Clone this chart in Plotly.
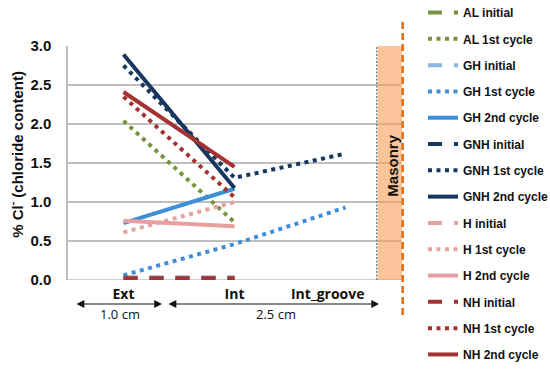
import plotly.graph_objects as go

categories = ["Ext", "Int", "Int_groove"]
x_pos = [0, 1, 2]
tick_pos = [0, 1, 1.84]

series_names = ["AL initial", "AL 1st cycle",
                "GH initial", "GH 1st cycle", "GH 2nd cycle",
                "GNH initial", "GNH 1st cycle", "GNH 2nd cycle",
                "H initial", "H 1st cycle", "H 2nd cycle",
                "NH initial", "NH 1st cycle", "NH 2nd cycle"]

al_initial = [0.02, 0.02, None]
al_1st = [2.04, 0.74, None]
gh_initial = [0.02, 0.02, None]
gh_1st = [0.06, 0.46, 0.93]
gh_2nd = [0.73, 1.17, None]
gnh_initial = [0.03, 0.03, None]
gnh_1st = [2.75, 1.31, 1.62]
gnh_2nd = [2.89, 1.18, None]
h_initial = [0.02, 0.02, None]
h_1st = [0.61, 1.00, None]
h_2nd = [0.76, 0.69, None]
nh_initial = [0.02, 0.02, None]
nh_1st = [2.35, 1.06, None]
nh_2nd = [2.41, 1.45, None]

values = [al_initial, al_1st, gh_initial, gh_1st, gh_2nd,
          gnh_initial, gnh_1st, gnh_2nd, h_initial, h_1st, h_2nd,
          nh_initial, nh_1st, nh_2nd]

green = "#77933C"
blue_l = "#8DB4E2"
blue = "#3C8FD8"
navy = "#17375E"
pink = "#E6A0A0"
red = "#A53232"
colors = [green, green, blue_l, blue, blue, navy, navy, navy,
          pink, pink, pink, red, red, red]
DASH = "14px,12px"
DOT = "4px,4.5px"
dashes = [DASH, DOT, DASH, DOT, "solid", DASH, DOT, "solid",
          DASH, DOT, "solid", DASH, DOT, "solid"]

fig = go.Figure()
for i, (name, vals) in enumerate(zip(series_names, values)):
    fig.add_trace(go.Scatter(
        x=x_pos, y=vals, name=name, mode="lines",
        line=dict(color=colors[i], width=4, dash=dashes[i]),
        legendgroup=name, connectgaps=False,
    ))

W, H = 550, 371
L, R, T, B = 68, 149, 46, 91

fig.update_layout(
    width=W, height=H,
    margin=dict(l=L, r=R, t=T, b=B, autoexpand=False),
    paper_bgcolor="white", plot_bgcolor="white",
    showlegend=True,
    legend=dict(x=1.066, y=1.205, xanchor="left", yanchor="top",
                font=dict(family="Liberation Sans", size=12, color="#111", weight="bold"),
                tracegroupgap=7.3, bgcolor="rgba(0,0,0,0)",
                itemclick=False, maxheight=400),
    xaxis=dict(range=[-0.5, 2.5], tickvals=tick_pos, ticktext=categories,
               showgrid=False, zeroline=False, showline=False,
               tickfont=dict(family="Open Sans", size=14, color="#111", weight="bold"),
               ticks="", ticklabelstandoff=4),
    yaxis=dict(range=[0, 3.0], tickvals=[0, 0.5, 1.0, 1.5, 2.0, 2.5, 3.0],
               ticktext=["0.0", "0.5", "1.0", "1.5", "2.0", "2.5", "3.0"],
               showgrid=True, gridcolor="#BFBFBF", gridwidth=1.5,
               zeroline=False, showline=True, linecolor="#BFBFBF", linewidth=1.5,
               tickfont=dict(family="Liberation Sans", size=15, color="#111", weight="bold"),
               ticks="", ticklabelstandoff=12),
)

# x axis baseline
fig.add_shape(type="line", xref="paper", yref="y", x0=0, x1=1, y0=0, y1=0,
              line=dict(color="#BFBFBF", width=1.5), layer="between")

# Masonry area
fig.add_shape(type="rect", xref="paper", yref="y", x0=0.93, x1=1.003, y0=0, y1=3.0,
              fillcolor="rgba(248,157,87,0.6)", line=dict(width=0), layer="above")
fig.add_shape(type="line", xref="paper", yref="y", x0=0.927, x1=0.927, y0=0, y1=3.0,
              line=dict(color="#808080", width=1.5, dash="2px,1.5px"))
fig.add_shape(type="line", xref="paper", yref="paper", x0=1.005, x1=1.005,
              y0=-0.15, y1=1.103,
              line=dict(color="#E46C0A", width=2.5, dash="7px,4px"))
fig.add_annotation(xref="paper", yref="paper", x=0.974, y=0.49,
                   xanchor="center", yanchor="middle",
                   text="<b>Masonry</b>", textangle=-90, showarrow=False,
                   font=dict(family="Liberation Sans", size=15, color="#111"))

# y title
fig.add_annotation(xref="paper", yref="paper", x=-0.156, y=0.535,
                   xanchor="center", yanchor="middle",
                   text="<b>% Cl<sup>-</sup> (chloride content)</b>", textangle=-90,
                   showarrow=False,
                   font=dict(family="Liberation Sans", size=15, color="#111"))

# distance arrows
arrow_y = -0.1026
for x0, x1 in [(-0.437, 0.347), (0.392, 2.302)]:
    fig.add_annotation(xref="x", yref="paper", x=x1, y=arrow_y,
                       axref="x", ayref="pixel", ax=x0, ay=0,
                       text="", showarrow=True, arrowhead=2, arrowside="end+start",
                       arrowsize=1.3, arrowwidth=1.2, arrowcolor="#111")
fig.add_annotation(xref="x", yref="paper", x=-0.035, y=-0.145, yanchor="middle",
                   text="1.0 cm",
                   showarrow=False, font=dict(family="Open Sans", size=13, color="#111"))
fig.add_annotation(xref="x", yref="paper", x=1.37, y=-0.145, yanchor="middle",
                   text="2.5 cm",
                   showarrow=False, font=dict(family="Open Sans", size=13, color="#111"))

fig.write_html("out.html", config={"displayModeBar": False},
               post_script="document.body.style.margin='0px';document.body.style.overflow='hidden';")
